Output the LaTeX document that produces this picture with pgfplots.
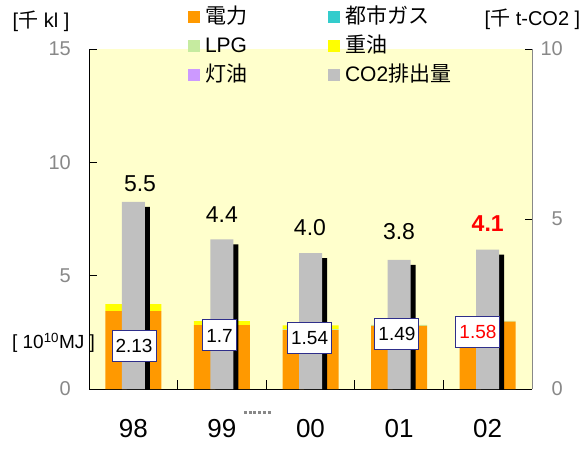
\documentclass[border=0pt]{standalone}
\usepackage{pgfplots}
\pgfplotsset{compat=1.18}
\usepackage{fontspec}
\setmainfont{Liberation Sans}
\newfontfamily\cjk{Noto Sans CJK JP}
\definecolor{cOrange}{HTML}{FF9900}
\definecolor{cTeal}{HTML}{33CCCC}
\definecolor{cLPG}{HTML}{C6EBA0}
\definecolor{cYellow}{HTML}{FFFF00}
\definecolor{cViolet}{HTML}{CC99FF}
\definecolor{cGray}{HTML}{C0C0C0}
\definecolor{bgYellow}{HTML}{FFFFCC}
\definecolor{tickGray}{HTML}{888888}
\definecolor{boxBlue}{HTML}{2E2E8A}
\newcommand{\fs}[1]{\fontsize{#1}{#1}\selectfont}
\begin{document}
\begin{tikzpicture}
\useasboundingbox (0,0) rectangle (588pt,450pt);
\pgfplotsset{
  base/.style={
    scale only axis, width=443pt, height=340pt,
    at={(89pt,61pt)}, anchor=south west,
    xmin=-0.5, xmax=4.5,
    /pgf/number format/assume math mode=true,
    tick align=inside,
    every tick/.style={black, line width=0.8pt},
    axis line style={line width=1pt},
  }
}
% left axis: energy stacked bars
\begin{axis}[base,
  axis background/.style={fill=bgYellow},
  ymin=0, ymax=15, ytick={0,5,10,15},
  axis x line*=bottom, axis y line*=left,
  ybar stacked, bar width=56pt,
  xtick={0,1,2,3,4}, xticklabels={98,99,00,01,02},
  major x tick style={draw=none},
  minor xtick={0.5,1.5,2.5,3.5},
  minor tick length=9pt,
  major tick length=8pt,
  xticklabel style={font=\fs{26}, anchor=center, yshift=-39.5pt, inner sep=0pt},
  yticklabel style={font=\fs{20}, text=tickGray, anchor=east, inner sep=0pt, xshift=-18pt},
]
\addplot[fill=cOrange, draw=none] coordinates {(0,3.44) (1,2.82) (2,2.60) (3,2.79) (4,2.97)};
\addplot[fill=cTeal, draw=none] coordinates {(0,0) (1,0) (2,0) (3,0) (4,0)};
\addplot[fill=cLPG, draw=none] coordinates {(0,0) (1,0) (2,0.04) (3,0.04) (4,0.04)};
\addplot[fill=cYellow, draw=none] coordinates {(0,0.31) (1,0.18) (2,0.17) (3,0) (4,0)};
\addplot[fill=cViolet, draw=none] coordinates {(0,0) (1,0) (2,0) (3,0) (4,0)};
\end{axis}
% right axis: CO2 bars
\begin{axis}[base,
  ymin=0, ymax=10, ytick={0,5,10},
  axis x line=none, axis y line*=right,
  y axis line style={draw=tickGray},
  major tick length=7pt,
  yticklabel style={font=\fs{20}, text=tickGray, anchor=east, inner sep=0pt, xshift=31pt},
  legend image code/.code={\fill[#1] (0pt,-6pt) rectangle (12pt,6pt);},
  legend columns=2, legend cell align=left,
  legend style={at={(0.2235,1.1206)}, anchor=north west, draw=none, fill=none,
    inner sep=0pt, outer sep=0pt, column sep=5pt, row sep=11pt,
    nodes={inner sep=0pt, text height=16pt, text depth=2pt},
    font=\fs{21}},
]
\addlegendimage{fill=cOrange, draw=none}
\addlegendentry{\makebox[118pt][l]{\cjk 電力}}
\addlegendimage{fill=cTeal, draw=none}
\addlegendentry{{\cjk 都市ガス}}
\addlegendimage{fill=cLPG, draw=none}
\addlegendentry{\makebox[118pt][l]{LPG}}
\addlegendimage{fill=cYellow, draw=none}
\addlegendentry{{\cjk 重油}}
\addlegendimage{fill=cViolet, draw=none}
\addlegendentry{\makebox[118pt][l]{\cjk 灯油}}
\addplot[ybar, bar width=23pt, bar shift=5pt, fill=black, draw=none, yshift=-5pt, forget plot]
  coordinates {(0,5.5) (1,4.4) (2,4.0) (3,3.8) (4,4.1)};
\addplot[ybar, bar width=23pt, bar shift=0pt, fill=cGray, draw=none]
  coordinates {(0,5.5) (1,4.4) (2,4.0) (3,3.8) (4,4.1)};
\addlegendentry{CO2{\cjk 排出量}}
% value labels
\node[font=\fs{23}] at (axis cs:0.076,6.03) {5.5};
\node[font=\fs{23}] at (axis cs:1.0,5.12) {4.4};
\node[font=\fs{23}] at (axis cs:1.994,4.76) {4.0};
\node[font=\fs{23}] at (axis cs:2.999,4.62) {3.8};
\node[font=\fs{23}\bfseries, text=red] at (axis cs:4.0,4.87) {4.1};
% boxed energy labels
\tikzset{vbox/.style={draw=boxBlue, line width=1pt, fill=white, font=\fs{19}, inner xsep=3.5pt, inner ysep=0pt, minimum height=31pt}}
\node[vbox] at (axis cs:0.008,1.265) {2.13};
\node[vbox] at (axis cs:0.974,1.574) {1.7};
\node[vbox] at (axis cs:1.99,1.5) {1.54};
\node[vbox] at (axis cs:2.976,1.62) {1.49};
\node[vbox, text=red] at (axis cs:3.89,1.69) {1.58};
\end{axis}
% axis unit labels
\node[font=\fs{20}] at (41pt,429pt) {[{\cjk 千} kl ]};
\node[font=\fs{20}] at (532.5pt,431pt) {[{\cjk 千} t-CO2 ]};
\node[font=\fs{19}] at (53.5pt,107pt) {[ 10\textsuperscript{10}MJ ]};
\draw[tickGray, line width=3pt, dash pattern=on 3pt off 1.7pt] (244pt,38pt) -- (272pt,38pt);
\end{tikzpicture}
\end{document}
